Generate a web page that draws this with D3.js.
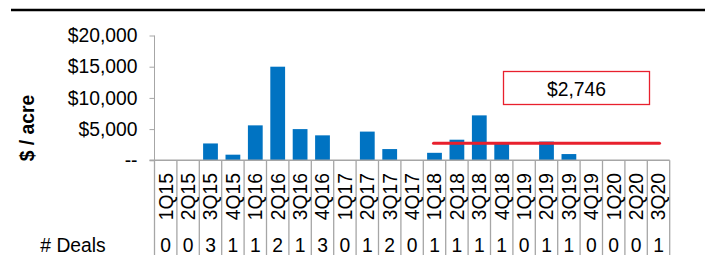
<!DOCTYPE html>
<html>
<head>
<meta charset="utf-8">
<script src="https://cdn.jsdelivr.net/npm/d3@7"></script>
<style>
    body { margin: 0; background: #fff; }
    svg { display: block; font-family: "Liberation Sans", Arial, sans-serif; }
</style>
</head>
<body>
<div id="chart"></div>
<script>
const quarters = ["1Q15", "2Q15", "3Q15", "4Q15", "1Q16", "2Q16", "3Q16", "4Q16",
    "1Q17", "2Q17", "3Q17", "4Q17", "1Q18", "2Q18", "3Q18", "4Q18",
    "1Q19", "2Q19", "3Q19", "4Q19", "1Q20", "2Q20", "3Q20"];
const pricePerAcre = [0, 0, 2700, 900, 5600, 15000, 5000, 4000,
    0, 4600, 1800, 0, 1200, 3300, 7200, 2700,
    0, 3000, 1000, 0, 0, 0, 0];
const deals = [0, 0, 3, 1, 1, 2, 1, 3, 0, 1, 2, 0, 1, 1, 1, 1, 0, 1, 1, 0, 0, 0, 1];
const yTicks = [0, 5000, 10000, 15000, 20000];
const average = 2746;
const averageFrom = "1Q18";
const averageTo = "3Q20";

const width = 710;
const height = 255;
const gray = "#a6a6a6";
const fontSize = "19.3px";

const svg = d3.select("#chart")
    .append("svg")
    .attr("width", width)
    .attr("height", height);

const xScale = d3.scaleBand()
    .domain(quarters)
    .range([154.5, 669.7])
    .paddingInner(0.34)
    .paddingOuter(0.17);

const yScale = d3.scaleLinear()
    .domain([0, 20000])
    .range([160.3, 35.5]);

// top rule
svg.append("line")
    .attr("x1", 11).attr("x2", 705)
    .attr("y1", 10).attr("y2", 10)
    .attr("stroke", "#000")
    .attr("stroke-width", 2.5);

// bars
svg.append("g")
    .selectAll("rect")
    .data(quarters)
    .join("rect")
    .attr("x", (d) => xScale(d))
    .attr("y", (d, i) => yScale(pricePerAcre[i]))
    .attr("width", xScale.bandwidth())
    .attr("height", (d, i) => yScale(0) - yScale(pricePerAcre[i]))
    .attr("fill", "#0073c2");

// y axis
const yAxis = svg.append("g")
    .attr("transform", "translate(154.5,0)")
    .call(d3.axisLeft(yScale)
        .tickValues(yTicks)
        .tickSize(5)
        .tickPadding(12)
        .tickFormat((d) => d === 0 ? "--" : "$" + d3.format(",")(d)));
yAxis.select(".domain").attr("stroke", gray).attr("d", "M0,35.5V160.3");
yAxis.selectAll(".tick line").attr("stroke", gray);
yAxis.selectAll(".tick text")
    .attr("fill", "#000")
    .style("font-size", fontSize)
    .style("font-family", "Liberation Sans, Arial, sans-serif");

svg.append("text")
    .attr("transform", "translate(34,128) rotate(-90)")
    .attr("text-anchor", "middle")
    .style("font-size", fontSize)
    .style("font-weight", "bold")
    .text("$ / acre");

// x axis line and table grid
const step = xScale.step();
const x0 = xScale.range()[0];
svg.append("line")
    .attr("x1", 149.5).attr("x2", xScale.range()[1])
    .attr("y1", yScale(0)).attr("y2", yScale(0))
    .attr("stroke", gray).attr("stroke-width", 1.5);

svg.append("g")
    .selectAll("line")
    .data(d3.range(quarters.length + 1))
    .join("line")
    .attr("x1", (i) => x0 + i * step)
    .attr("x2", (i) => x0 + i * step)
    .attr("y1", yScale(0))
    .attr("y2", height)
    .attr("stroke", gray)
    .attr("stroke-width", 1.3);

const center = (q) => xScale(q) + xScale.bandwidth() / 2;

svg.append("g")
    .selectAll("text")
    .data(quarters)
    .join("text")
    .attr("transform", (d) => `translate(${center(d)},196.7) rotate(-90)`)
    .attr("text-anchor", "middle")
    .attr("dy", "0.36em")
    .style("font-size", fontSize)
    .text((d) => d);

svg.append("g")
    .selectAll("text")
    .data(deals)
    .join("text")
    .attr("x", (d, i) => center(quarters[i]))
    .attr("y", 251.7)
    .attr("text-anchor", "middle")
    .style("font-size", fontSize)
    .text((d) => d);

svg.append("text")
    .attr("x", 73)
    .attr("y", 251.7)
    .attr("text-anchor", "middle")
    .style("font-size", fontSize)
    .text("# Deals");

// average line
svg.append("line")
    .attr("x1", center(averageFrom) - 1)
    .attr("x2", center(averageTo) + 1)
    .attr("y1", yScale(average))
    .attr("y2", yScale(average))
    .attr("stroke", "#e8202d")
    .attr("stroke-width", 3)
    .attr("stroke-linecap", "round");

// annotation box
svg.append("rect")
    .attr("x", 503.5).attr("y", 71.5)
    .attr("width", 146).attr("height", 33)
    .attr("fill", "#fff")
    .attr("stroke", "#e8202d")
    .attr("stroke-width", 1.3);

svg.append("text")
    .attr("x", 576.5)
    .attr("y", 95.5)
    .attr("text-anchor", "middle")
    .style("font-size", fontSize)
    .text("$" + d3.format(",")(average));
</script>
</body>
</html>
